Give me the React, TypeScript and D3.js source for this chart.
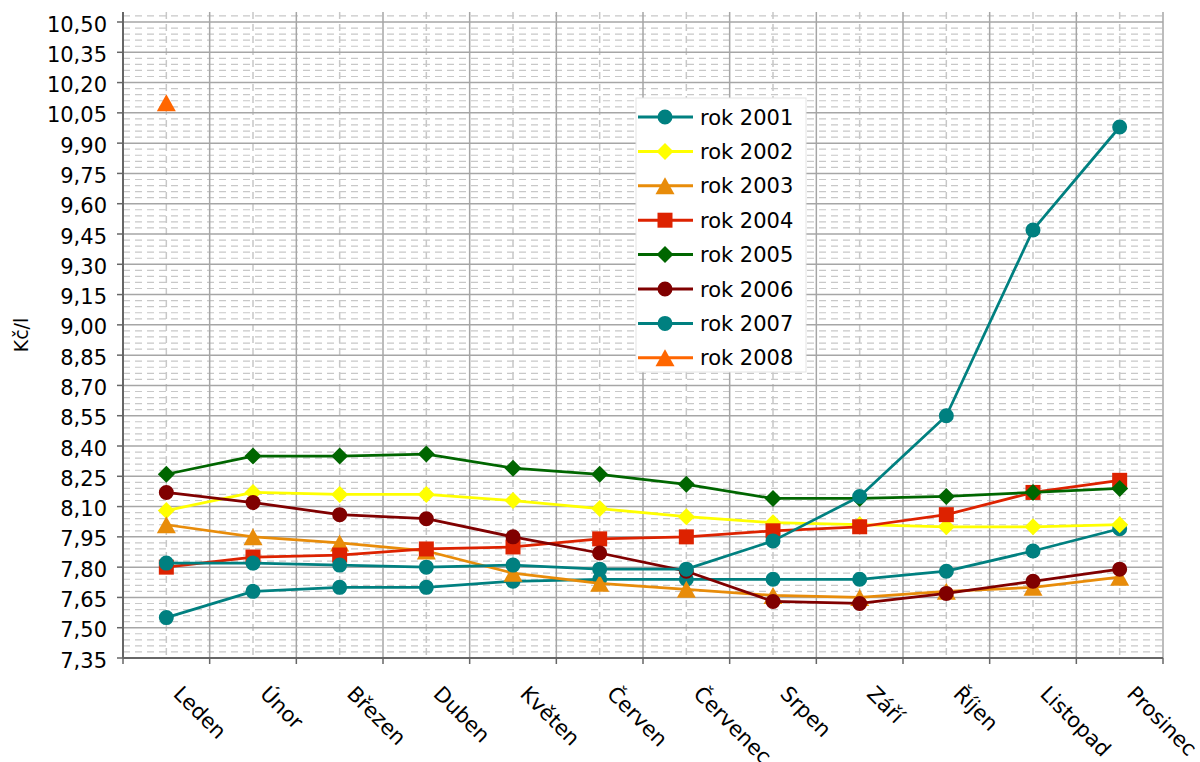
import React from "react";
import * as d3 from "d3";

const months = ["Leden", "Únor", "Březen", "Duben", "Květen", "Červen", "Červenec", "Srpen", "Září", "Říjen", "Listopad", "Prosinec"];

const rok2001 = [7.55, 7.68, 7.70, 7.70, 7.73, 7.74, 7.74, 7.74, 7.74, 7.78, 7.88, 7.99];
const rok2002 = [8.08, 8.17, 8.16, 8.16, 8.13, 8.09, 8.05, 8.02, 8.01, 8.00, 8.00, 8.01];
const rok2003 = [8.01, 7.95, 7.92, 7.88, 7.77, 7.72, 7.69, 7.66, 7.65, 7.68, 7.70, 7.75];
const rok2004 = [7.80, 7.85, 7.86, 7.89, 7.90, 7.94, 7.95, 7.98, 8.00, 8.06, 8.17, 8.23];
const rok2005 = [8.26, 8.35, 8.35, 8.36, 8.29, 8.26, 8.21, 8.14, 8.14, 8.15, 8.17, 8.19];
const rok2006 = [8.17, 8.12, 8.06, 8.04, 7.95, 7.87, 7.78, 7.63, 7.62, 7.67, 7.73, 7.79];
const rok2007 = [7.82, 7.82, 7.81, 7.80, 7.81, 7.79, 7.79, 7.93, 8.15, 8.55, 9.47, 9.98];
const rok2008 = [10.10];

const seriesNames = ["rok 2001", "rok 2002", "rok 2003", "rok 2004", "rok 2005", "rok 2006", "rok 2007", "rok 2008"];
const seriesValues = [rok2001, rok2002, rok2003, rok2004, rok2005, rok2006, rok2007, rok2008];
const seriesColors = ["#008080", "#FFFF00", "#E88C0A", "#DD2200", "#006600", "#800000", "#008080", "#FF6600"];
const seriesMarkers = ["circle", "diamond", "triangle", "square", "diamond", "circle", "circle", "triangle"];

const yMin = 7.35;
const yMax = 10.5;
const yStep = 0.15;
const yMinorStep = 0.03;

const FONT = "'DejaVu Sans', Verdana, sans-serif";

function markerPath(kind: string, cx: number, cy: number): string {
  if (kind === "circle") {
    const r = 7.5;
    return `M${cx - r},${cy}a${r},${r} 0 1,0 ${2 * r},0a${r},${r} 0 1,0 ${-2 * r},0Z`;
  }
  if (kind === "diamond") {
    const r = 8.5;
    return `M${cx},${cy - r}L${cx + r},${cy}L${cx},${cy + r}L${cx - r},${cy}Z`;
  }
  if (kind === "square") {
    const s = 7.5;
    return `M${cx - s},${cy - s}H${cx + s}V${cy + s}H${cx - s}Z`;
  }
  // triangle
  const w = 9.5;
  const h = 8.5;
  return `M${cx},${cy - h}L${cx + w},${cy + h}L${cx - w},${cy + h}Z`;
}

export default function App() {
  const W = 1200;
  const H = 762;
  const left = 123;
  const right = 1163;
  const x = d3.scaleBand<string>().domain(months).range([left, right]).padding(0);
  const y = d3.scaleLinear().domain([yMin, yMax]).range([658, 22]);
  const plotTop = y(10.55);
  const plotBottom = y(yMin);
  const cx = (m: string) => (x(m) as number) + x.bandwidth() / 2;

  const nMajor = Math.round((yMax - yMin) / yStep);
  const majors = d3.range(0, nMajor + 1).map((i) => yMin + i * yStep);
  const nMinor = Math.floor((10.55 - yMin) / yMinorStep + 1e-6);
  const minors = d3
    .range(1, nMinor + 1)
    .filter((i) => i % 5 !== 0)
    .map((i) => yMin + i * yMinorStep);

  const boundaries = months.map((m) => x(m) as number).concat([right]);

  const line = d3
    .line<[number, number]>()
    .x((d) => d[0])
    .y((d) => d[1]);

  const legendX = 636;
  const legendY = 98;
  const legendRowH = 34.4;

  return (
    <svg width={W} height={H} style={{ position: "absolute", left: 0, top: 0, background: "#fff" }} fontFamily={FONT}>
      <rect x={0} y={0} width={W} height={H} fill="#fff" />
      {/* minor horizontal grid */}
      {minors.map((v, i) => (
        <line key={"mh" + i} x1={left} x2={right} y1={y(v)} y2={y(v)} stroke="#c8c8c8" strokeWidth={1.2} strokeDasharray="7,5" />
      ))}
      {/* minor vertical grid at band centers */}
      {months.map((m) => (
        <line key={"mv" + m} x1={cx(m)} x2={cx(m)} y1={plotTop} y2={plotBottom} stroke="#c8c8c8" strokeWidth={1.5} strokeDasharray="7,5" />
      ))}
      {/* major horizontal grid */}
      {majors.map((v, i) => (
        <line key={"MH" + i} x1={left} x2={right} y1={y(v)} y2={y(v)} stroke="#a6a6a6" strokeWidth={1.5} />
      ))}
      {/* major vertical grid */}
      {boundaries.map((b, i) => (
        <line key={"MV" + i} x1={b} x2={b} y1={plotTop} y2={plotBottom} stroke="#a6a6a6" strokeWidth={1.5} />
      ))}
      {/* axes */}
      <line x1={left} x2={left} y1={plotTop} y2={plotBottom} stroke="#666" strokeWidth={2} />
      <line x1={left} x2={right} y1={plotBottom} y2={plotBottom} stroke="#666" strokeWidth={2} />
      {majors.map((v, i) => (
        <line key={"yt" + i} x1={left - 6} x2={left} y1={y(v)} y2={y(v)} stroke="#666" strokeWidth={1.5} />
      ))}
      {boundaries.map((b, i) => (
        <line key={"xt" + i} x1={b} x2={b} y1={plotBottom} y2={plotBottom + 6} stroke="#666" strokeWidth={1.5} />
      ))}
      {/* y tick labels */}
      {majors.map((v, i) => (
        <text key={"yl" + i} x={107} y={y(v) + 9.5} textAnchor="end" fontSize={21} fill="#000">
          {v.toFixed(2).replace(".", ",")}
        </text>
      ))}
      {/* y axis title */}
      <text transform={`translate(28,335) rotate(-90)`} textAnchor="middle" fontSize={19} fill="#000">
        Kč/l
      </text>
      {/* x labels */}
      {months.map((m) => (
        <text key={"xl" + m} transform={`translate(${cx(m) + 6},695) rotate(45)`} textAnchor="start" fontSize={21} fill="#000">
          {m}
        </text>
      ))}
      {/* series */}
      {seriesValues.map((vals, si) => {
        const pts: [number, number][] = vals.map((v, i) => [cx(months[i]), y(v)]);
        return (
          <g key={"s" + si}>
            {pts.length > 1 && <path d={line(pts) || ""} fill="none" stroke={seriesColors[si]} strokeWidth={2.75} strokeLinejoin="round" />}
            {pts.map((p, i) => (
              <path key={i} d={markerPath(seriesMarkers[si], p[0], p[1])} fill={seriesColors[si]} stroke="none" />
            ))}
          </g>
        );
      })}
      {/* legend */}
      <rect x={legendX} y={legendY} width={170} height={274} fill="#fff" stroke="#e4e4e4" strokeWidth={1} />
      {seriesNames.map((name, i) => {
        const ly = 117 + i * legendRowH;
        return (
          <g key={"lg" + i}>
            <line x1={638} x2={693} y1={ly} y2={ly} stroke={seriesColors[i]} strokeWidth={3} />
            <path d={markerPath(seriesMarkers[i], 665, ly)} fill={seriesColors[i]} />
            <text x={700} y={ly + 7.5} fontSize={21} fill="#000">
              {name}
            </text>
          </g>
        );
      })}
    </svg>
  );
}
